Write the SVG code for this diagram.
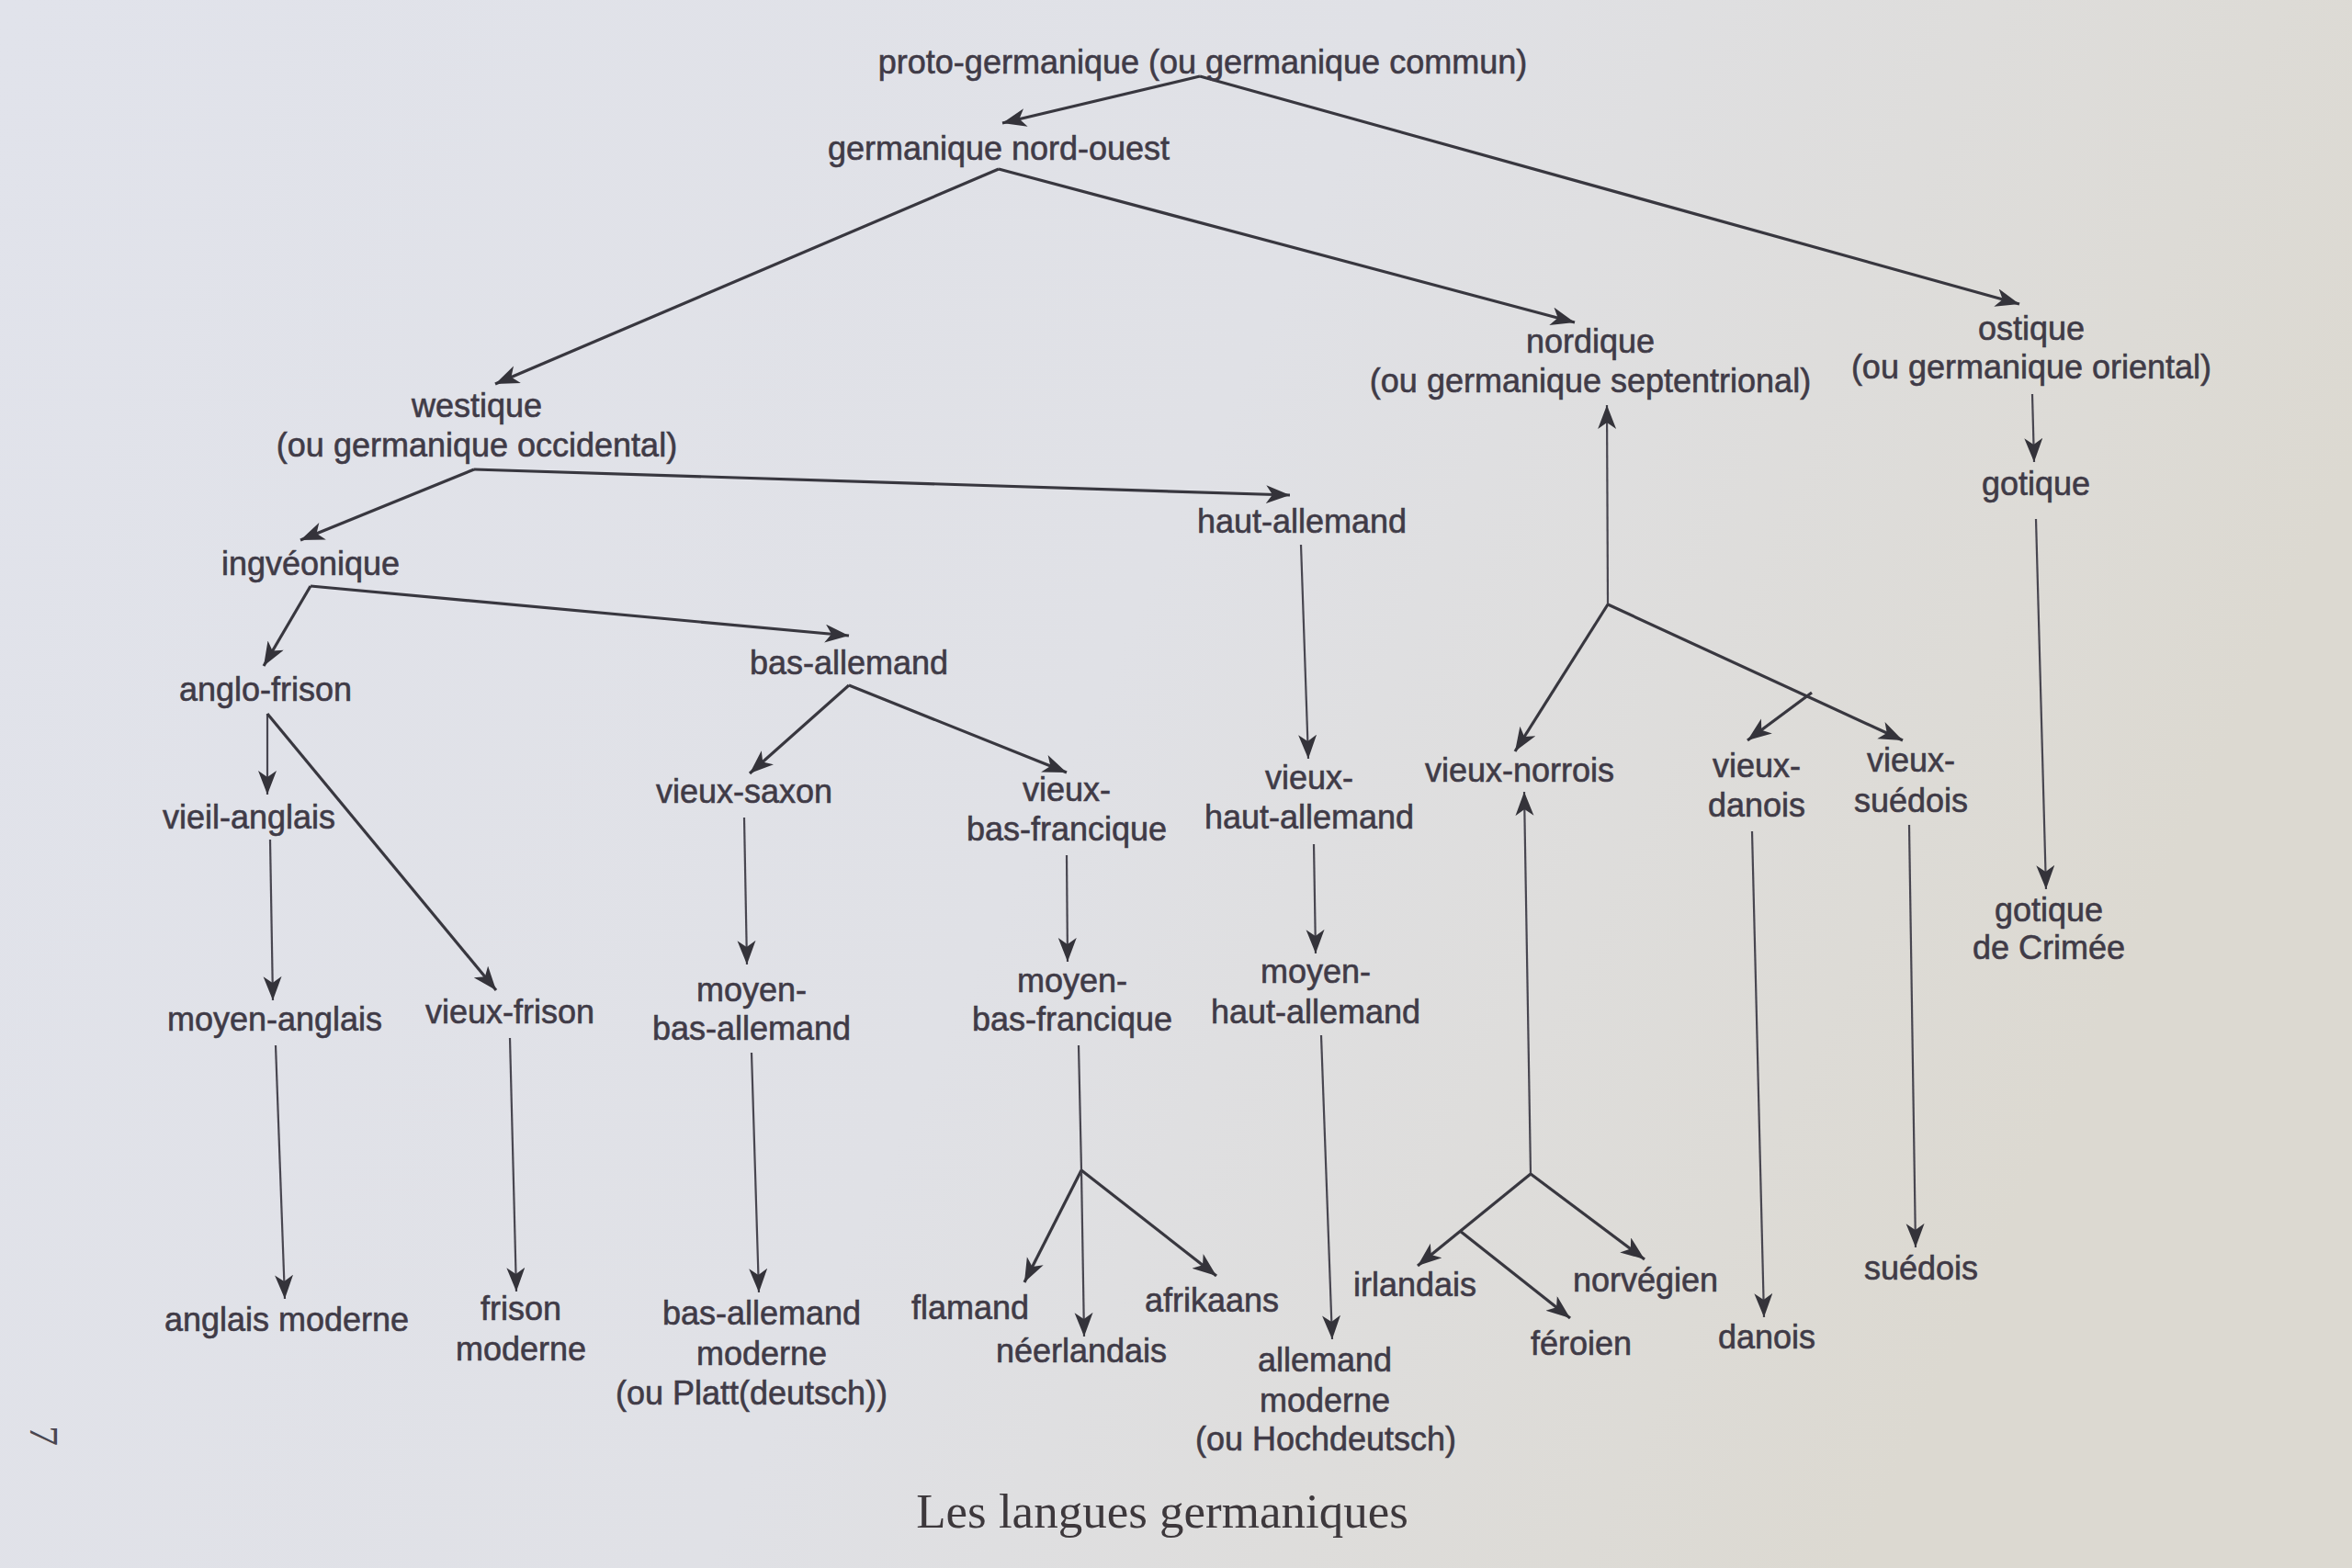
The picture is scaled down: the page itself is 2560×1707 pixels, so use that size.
<svg xmlns="http://www.w3.org/2000/svg" width="2560" height="1707" viewBox="0 0 2560 1707">
<defs>
<linearGradient id="paper" x1="0" y1="0" x2="1" y2="0.3">
<stop offset="0" stop-color="#e1e3eb"/>
<stop offset="0.55" stop-color="#e0e1e6"/>
<stop offset="1" stop-color="#dcd9d1"/>
</linearGradient>
<marker id="ah" markerUnits="userSpaceOnUse" markerWidth="30" markerHeight="22" refX="26" refY="10" orient="auto">
<path d="M0,0 L26,10 L0,20 L7,10 Z" fill="#34333a"/>
</marker>
</defs>
<style>
.t{font-family:"Liberation Sans",Arial,sans-serif;font-size:36px;fill:#403b47;stroke:#403b47;stroke-width:0.6;text-anchor:middle}
.c{fill:none;stroke:#38373f;stroke-width:3.2;marker-end:url(#ah)}
.v{fill:none;stroke:#484650;stroke-width:2.2;marker-end:url(#ah)}
.p{fill:none;stroke:#38373f;stroke-width:3.2}
.pv{fill:none;stroke:#484650;stroke-width:2.2}
.cap{font-family:"Liberation Serif","Times New Roman",serif;font-size:53px;fill:#3d383c;text-anchor:middle}
</style>
<rect width="2560" height="1707" fill="url(#paper)"/>

<g id="connectors">
<path class="c" d="M1306,83 L1091,134"/>
<path class="c" d="M1306,83 L2198,331"/>
<path class="c" d="M1087,184 L539,418"/>
<path class="c" d="M1087,184 L1714,351"/>
<path class="c" d="M516,511 L327,588"/>
<path class="c" d="M516,511 L1404,539"/>
<path class="c" d="M338,638 L287,725"/>
<path class="c" d="M338,638 L924,692"/>
<path class="v" d="M291,777 L291,865"/>
<path class="c" d="M291,777 L540,1078"/>
<path class="v" d="M294,914 L297,1089"/>
<path class="c" d="M924,746 L816,842"/>
<path class="c" d="M924,746 L1161,841"/>
<path class="v" d="M810,890 L813,1050"/>
<path class="v" d="M1161,931 L1162,1047"/>
<path class="v" d="M1416,593 L1424,826"/>
<path class="v" d="M1430,919 L1432,1038"/>
<path class="v" d="M300,1138 L310,1414"/>
<path class="v" d="M555,1130 L562,1406"/>
<path class="v" d="M818,1146 L826,1407"/>
<path class="pv" d="M1174,1138 L1177,1274"/>
<path class="c" d="M1177,1274 L1115,1396"/>
<path class="v" d="M1177,1274 L1180,1455"/>
<path class="c" d="M1177,1274 L1324,1389"/>
<path class="v" d="M1438,1127 L1450,1458"/>
<path class="v" d="M1750,658 L1749,441"/>
<path class="c" d="M1750,658 L1649,818"/>
<path class="c" d="M1750,658 L2071,806"/>
<path class="c" d="M1972,754 L1902,806"/>
<path class="v" d="M1907,905 L1920,1434"/>
<path class="v" d="M2078,898 L2085,1358"/>
<path class="v" d="M2212,429 L2214,503"/>
<path class="v" d="M2216,565 L2227,968"/>
<path class="v" d="M1666,1278 L1659,862"/>
<path class="c" d="M1666,1278 L1543,1378"/>
<path class="c" d="M1589,1340 L1709,1435"/>
<path class="c" d="M1666,1278 L1790,1371"/>
</g>

<g id="proto-germanique"><text class="t" x="1309" y="80">proto-germanique (ou germanique commun)</text></g>
<g id="germanique-nord-ouest"><text class="t" x="1087" y="174">germanique nord-ouest</text></g>
<g id="westique"><text class="t" x="519" y="454">westique</text><text class="t" x="519" y="497">(ou germanique occidental)</text></g>
<g id="nordique"><text class="t" x="1731" y="384">nordique</text><text class="t" x="1731" y="427">(ou germanique septentrional)</text></g>
<g id="ostique"><text class="t" x="2211" y="370">ostique</text><text class="t" x="2211" y="412">(ou germanique oriental)</text></g>
<g id="gotique"><text class="t" x="2216" y="539">gotique</text></g>
<g id="haut-allemand"><text class="t" x="1417" y="580">haut-allemand</text></g>
<g id="ingveonique"><text class="t" x="338" y="626">ingvéonique</text></g>
<g id="bas-allemand"><text class="t" x="924" y="734">bas-allemand</text></g>
<g id="anglo-frison"><text class="t" x="289" y="763">anglo-frison</text></g>
<g id="vieil-anglais"><text class="t" x="271" y="902">vieil-anglais</text></g>
<g id="vieux-saxon"><text class="t" x="810" y="874">vieux-saxon</text></g>
<g id="vieux-bas-francique"><text class="t" x="1161" y="872">vieux-</text><text class="t" x="1161" y="915">bas-francique</text></g>
<g id="vieux-haut-allemand"><text class="t" x="1425" y="859">vieux-</text><text class="t" x="1425" y="902">haut-allemand</text></g>
<g id="vieux-norrois"><text class="t" x="1654" y="851">vieux-norrois</text></g>
<g id="vieux-danois"><text class="t" x="1912" y="846">vieux-</text><text class="t" x="1912" y="889">danois</text></g>
<g id="vieux-suedois"><text class="t" x="2080" y="840">vieux-</text><text class="t" x="2080" y="884">suédois</text></g>
<g id="gotique-de-crimee"><text class="t" x="2230" y="1003">gotique</text><text class="t" x="2230" y="1044">de Crimée</text></g>
<g id="moyen-anglais"><text class="t" x="299" y="1122">moyen-anglais</text></g>
<g id="vieux-frison"><text class="t" x="555" y="1114">vieux-frison</text></g>
<g id="moyen-bas-allemand"><text class="t" x="818" y="1090">moyen-</text><text class="t" x="818" y="1132">bas-allemand</text></g>
<g id="moyen-bas-francique"><text class="t" x="1167" y="1080">moyen-</text><text class="t" x="1167" y="1122">bas-francique</text></g>
<g id="moyen-haut-allemand"><text class="t" x="1432" y="1070">moyen-</text><text class="t" x="1432" y="1114">haut-allemand</text></g>
<g id="anglais-moderne"><text class="t" x="312" y="1449">anglais moderne</text></g>
<g id="frison-moderne"><text class="t" x="567" y="1437">frison</text><text class="t" x="567" y="1481">moderne</text></g>
<g id="bas-allemand-moderne"><text class="t" x="829" y="1442">bas-allemand</text><text class="t" x="829" y="1486">moderne</text><text class="t" x="818" y="1529">(ou Platt(deutsch))</text></g>
<g id="flamand"><text class="t" x="1056" y="1436">flamand</text></g>
<g id="neerlandais"><text class="t" x="1177" y="1483">néerlandais</text></g>
<g id="afrikaans"><text class="t" x="1319" y="1428">afrikaans</text></g>
<g id="allemand-moderne"><text class="t" x="1442" y="1493">allemand</text><text class="t" x="1442" y="1537">moderne</text><text class="t" x="1443" y="1579">(ou Hochdeutsch)</text></g>
<g id="irlandais"><text class="t" x="1540" y="1411">irlandais</text></g>
<g id="feroien"><text class="t" x="1721" y="1475">féroien</text></g>
<g id="norvegien"><text class="t" x="1791" y="1406">norvégien</text></g>
<g id="danois"><text class="t" x="1923" y="1468">danois</text></g>
<g id="suedois"><text class="t" x="2091" y="1393">suédois</text></g>

<text class="cap" x="1265" y="1663">Les langues germaniques</text>
<text font-family="Liberation Serif, serif" font-size="44" fill="#4a4650" transform="translate(33,1552) rotate(90)">7</text>
</svg>
